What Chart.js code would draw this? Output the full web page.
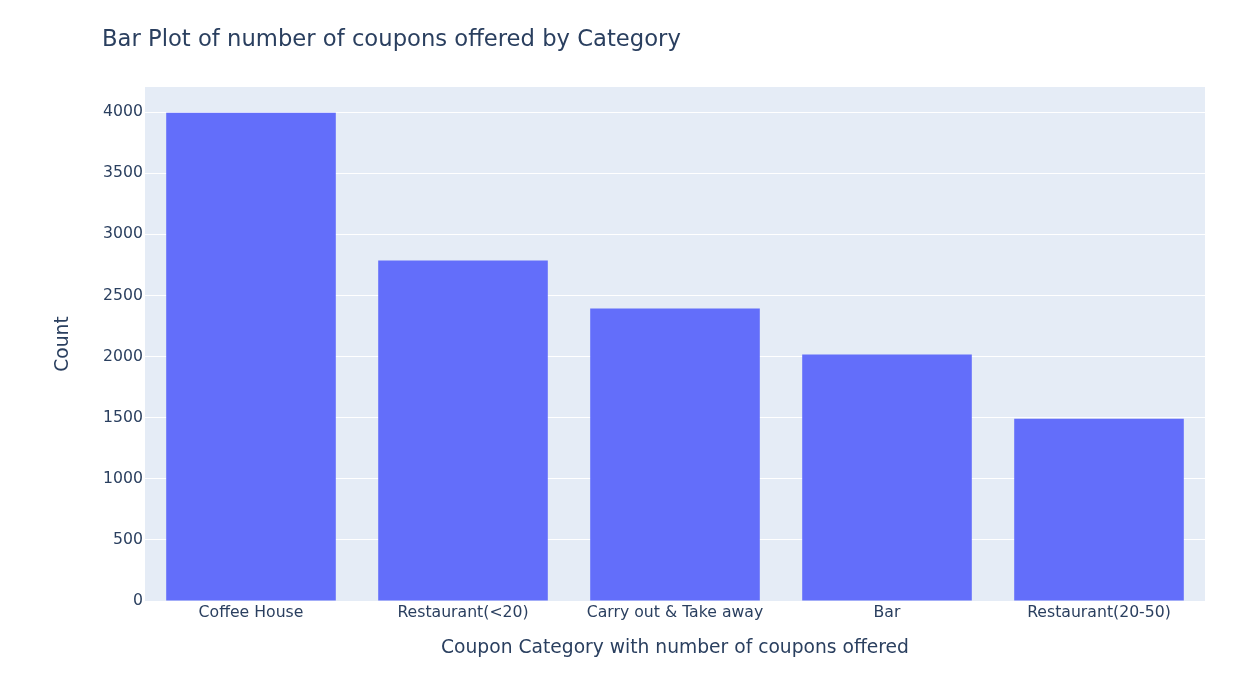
<!DOCTYPE html>
<html>
<head>
<meta charset="utf-8">
<script src="https://cdn.jsdelivr.net/npm/chart.js@4.4.0/dist/chart.umd.min.js"></script>
<style>
html,body{margin:0;padding:0;background:#fff;}
#wrap{width:1250px;height:696px;position:relative;}
</style>
</head>
<body>
<div id="wrap"><canvas id="c" width="1250" height="696"></canvas></div>
<script>
const categories = ["Coffee House", "Restaurant(<20)", "Carry out & Take away", "Bar", "Restaurant(20-50)"];
const counts = [3996, 2786, 2393, 2017, 1492];
const yTicks = [0, 500, 1000, 1500, 2000, 2500, 3000, 3500, 4000];
const chartTitle = "Bar Plot of number of coupons offered by Category";
const xTitle = "Coupon Category with number of coupons offered";
const yTitle = "Count";

const FONT = "'DejaVu Sans', Verdana, sans-serif";
const TXT = "#2a3f5f";

const bgPlugin = {
  id: 'plotbg',
  beforeDraw(chart) {
    const {ctx, chartArea: a} = chart;
    ctx.save();
    ctx.fillStyle = '#E5ECF6';
    ctx.fillRect(a.left, a.top, a.right - a.left, a.bottom - a.top);
    ctx.restore();
  },
  afterDraw(chart) {
    const {ctx} = chart;
    ctx.save();
    ctx.fillStyle = TXT;
    ctx.font = "22.7px " + FONT;
    ctx.textBaseline = 'middle';
    ctx.textAlign = 'left';
    ctx.fillText(chartTitle, 102, 40);
    ctx.restore();
  }
};

new Chart(document.getElementById('c'), {
  type: 'bar',
  data: {
    labels: categories,
    datasets: [{
      data: counts,
      backgroundColor: '#636EFA',
      borderWidth: 0,
      barPercentage: 0.8,
      categoryPercentage: 1.0
    }]
  },
  options: {
    responsive: false,
    animation: false,
    devicePixelRatio: 1,
    layout: { padding: { left: 52, right: 45, top: 87, bottom: 0 } },
    plugins: { legend: { display: false }, tooltip: { enabled: false }, title: { display: false } },
    scales: {
      x: {
        grid: { display: false, drawTicks: false },
        border: { display: false },
        ticks: { color: TXT, font: { family: FONT, size: 15.7 }, padding: 3, maxRotation: 0, autoSkip: false },
        title: { display: true, text: xTitle, color: TXT, font: { family: FONT, size: 18.7 }, padding: { top: 0, bottom: 37 } },
        afterFit(s) { s.height = 95; }
      },
      y: {
        min: 0,
        max: 4206,
        grid: { color: '#ffffff', lineWidth: 1, drawTicks: false },
        border: { display: false },
        ticks: { color: TXT, font: { family: FONT, size: 15.7 }, padding: 2, callback: (v) => String(v) },
        afterBuildTicks(s) { s.ticks = yTicks.map(v => ({ value: v })); },
        title: { display: true, text: yTitle, color: TXT, font: { family: FONT, size: 18.7 }, padding: { top: 0, bottom: 0 } },
        afterFit(s) { s.width = 93; }
      }
    }
  },
  plugins: [bgPlugin]
});
</script>
</body>
</html>
